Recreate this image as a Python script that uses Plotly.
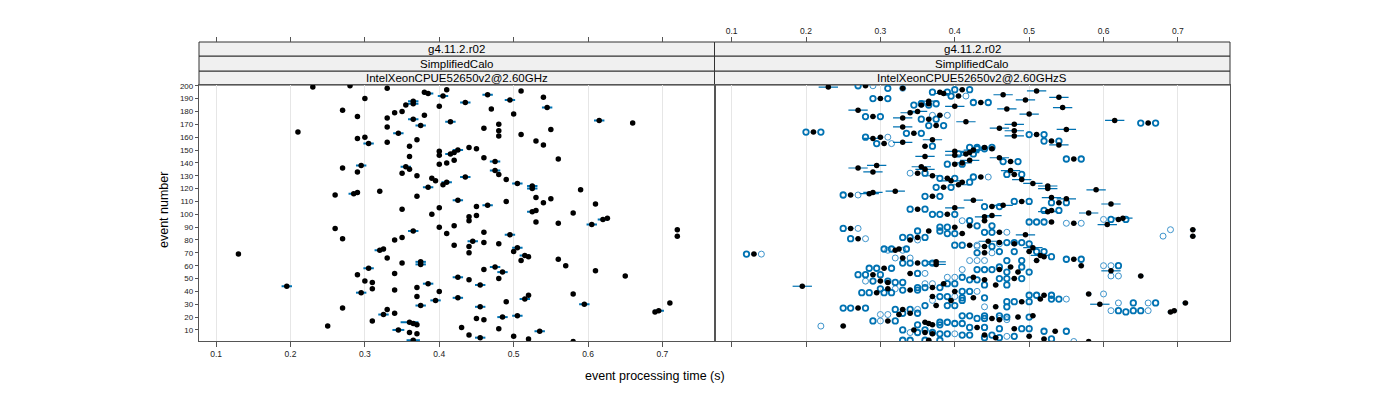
import plotly.graph_objects as go

# ---------------- data ----------------
events = list(range(1, 201))

time_s = [
    0.580, 0.365, 0.520, 0.455, 0.500, 0.440, 0.370, 0.360, 0.535, 0.345,
    0.480, 0.430, 0.250, 0.370, 0.365, 0.360, 0.310, 0.460, 0.450, 0.485,
    0.505, 0.325, 0.340, 0.690, 0.695, 0.330, 0.270, 0.455, 0.375, 0.595,
    0.710, 0.490, 0.395, 0.515, 0.425, 0.370, 0.520, 0.580, 0.295, 0.400,
    0.340, 0.310, 0.370, 0.195, 0.455, 0.385, 0.310, 0.300, 0.440, 0.480,
    0.425, 0.650, 0.290, 0.340, 0.485, 0.610, 0.460, 0.305, 0.475, 0.570,
    0.375, 0.350, 0.375, 0.510, 0.560, 0.330, 0.520, 0.515, 0.130, 0.440,
    0.500, 0.320, 0.325, 0.505, 0.440, 0.420, 0.480, 0.460, 0.445, 0.340,
    0.270, 0.350, 0.720, 0.495, 0.410, 0.460, 0.365, 0.720, 0.260, 0.400,
    0.420, 0.605, 0.560, 0.530, 0.440, 0.620, 0.626, 0.440, 0.450, 0.390,
    0.580, 0.525, 0.530, 0.350, 0.400, 0.450, 0.465, 0.610, 0.540, 0.490,
    0.425, 0.550, 0.530, 0.370, 0.260, 0.285, 0.290, 0.320, 0.590, 0.525,
    0.385, 0.525, 0.405, 0.505, 0.410, 0.395, 0.490, 0.390, 0.435, 0.370,
    0.480, 0.350, 0.290, 0.475, 0.360, 0.270, 0.355, 0.295, 0.400, 0.410,
    0.475, 0.420, 0.560, 0.460, 0.360, 0.400, 0.415, 0.420, 0.400, 0.425,
    0.450, 0.440, 0.360, 0.540, 0.305, 0.330, 0.530, 0.370, 0.290, 0.300,
    0.480, 0.510, 0.345, 0.210, 0.480, 0.550, 0.460, 0.330, 0.375, 0.480,
    0.660, 0.415, 0.615, 0.365, 0.330, 0.290, 0.380, 0.500, 0.340, 0.350,
    0.270, 0.470, 0.545, 0.400, 0.355, 0.365, 0.435, 0.365, 0.495, 0.300,
    0.540, 0.405, 0.465, 0.385, 0.380, 0.510, 0.410, 0.330, 0.230, 0.280,
]

# half-width of the error bar per event (left panel); events not listed: none
err_left = {
    2: 0.009, 4: 0.007, 9: 0.007, 10: 0.008, 16: 0.012, 20: 0.007, 21: 0.007,
    22: 0.007, 25: 0.007, 28: 0.007, 29: 0.007, 30: 0.007, 33: 0.007, 34: 0.007,
    35: 0.007, 39: 0.007, 44: 0.007, 45: 0.007, 46: 0.007, 51: 0.007, 55: 0.007,
    58: 0.007, 59: 0.007, 61: 0.007, 63: 0.007, 68: 0.007, 72: 0.007, 74: 0.007,
    79: 0.007, 84: 0.007, 87: 0.007, 92: 0.007, 96: 0.007, 102: 0.007, 107: 0.007,
    111: 0.007, 116: 0.007, 120: 0.007, 121: 0.007, 122: 0.007, 124: 0.007,
    125: 0.007, 129: 0.007, 134: 0.007, 137: 0.007, 138: 0.007, 141: 0.007,
    147: 0.007, 150: 0.007, 155: 0.007, 163: 0.007, 169: 0.007, 172: 0.007,
    173: 0.007, 174: 0.007, 183: 0.007, 186: 0.007, 187: 0.007, 188: 0.007,
    189: 0.007, 192: 0.007, 193: 0.007, 194: 0.007,
}

# right panel: longer bars on events without sample circles
err_right_long = [
    30, 44, 56, 61, 63, 68, 74, 79, 84, 92, 97, 98, 99, 101, 102, 105, 107, 108,
    111, 112, 113, 116, 117, 118, 119, 120, 122, 123, 124, 126, 127, 130, 133,
    134, 135, 136, 137, 138, 140, 142, 144, 145, 146, 148, 149, 150, 154, 156,
    158, 159, 161, 165, 166, 167, 168, 170, 172, 173, 175, 178, 179, 180, 181,
    182, 183, 184, 188, 189, 191, 193, 194, 196, 199,
]
err_right_long_value = 0.013
err_right_short_value = 0.004

# right panel: sample circles (thick, dark blue) per event
circ_thick = {
    200: [0.27], 198: [0.31], 197: [0.40, 0.42], 195: [0.37, 0.39], 192: [0.395],
    190: [0.29, 0.31], 187: [0.425, 0.445], 186: [0.355, 0.375], 185: [0.345, 0.365],
    176: [0.28, 0.30], 174: [0.355, 0.375], 171: [0.65, 0.67], 169: [0.365, 0.385],
    164: [0.20, 0.22], 163: [0.335, 0.355], 162: [0.50, 0.52], 160: [0.28],
    157: [0.52, 0.54], 155: [0.295], 153: [0.37], 152: [0.42, 0.43, 0.45],
    151: [0.43, 0.44], 147: [0.405, 0.425], 143: [0.55, 0.57], 141: [0.465, 0.485],
    139: [0.39, 0.41], 132: [0.36], 131: [0.47, 0.49], 129: [0.425], 128: [0.38, 0.40],
    125: [0.42], 121: [0.375, 0.395], 115: [0.25], 114: [0.36, 0.38], 110: [0.48, 0.50],
    109: [0.53, 0.55], 106: [0.44, 0.46], 104: [0.34, 0.36], 103: [0.52, 0.54],
    100: [0.37, 0.38, 0.40], 96: [0.61, 0.63], 95: [0.42], 94: [0.50, 0.51, 0.52],
    91: [0.43, 0.45], 90: [0.38, 0.39], 89: [0.25], 87: [0.35, 0.38], 86: [0.44, 0.45],
    85: [0.39, 0.40], 82: [0.33, 0.34, 0.36], 81: [0.26], 78: [0.47, 0.48, 0.49],
    77: [0.50], 76: [0.40, 0.41], 75: [0.45], 73: [0.305, 0.315, 0.335],
    71: [0.46, 0.48, 0.51, 0.52], 70: [0.43], 69: [0.12], 67: [0.53], 65: [0.55, 0.57],
    64: [0.47, 0.49], 62: [0.33, 0.34, 0.36, 0.37], 60: [0.62], 59: [0.46, 0.49],
    58: [0.285, 0.295, 0.315], 57: [0.43, 0.44, 0.45], 55: [0.47, 0.50], 54: [0.35],
    53: [0.27, 0.28, 0.30], 51: [0.41], 50: [0.46, 0.47, 0.49], 49: [0.42, 0.43],
    48: [0.29, 0.31], 47: [0.32, 0.33], 46: [0.39, 0.40], 45: [0.44, 0.47],
    43: [0.35, 0.36, 0.38], 42: [0.30], 41: [0.33, 0.35], 40: [0.41, 0.42],
    39: [0.275, 0.285, 0.305, 0.315], 37: [0.50, 0.51, 0.53], 36: [0.38, 0.39],
    35: [0.41, 0.44], 34: [0.53, 0.54], 33: [0.41], 32: [0.47, 0.48, 0.50],
    31: [0.64, 0.67], 29: [0.36, 0.39, 0.40], 28: [0.47], 27: [0.25, 0.26, 0.28],
    26: [0.32, 0.34], 25: [0.62, 0.64, 0.65], 24: [0.63], 23: [0.33, 0.35],
    21: [0.41, 0.42, 0.44, 0.46], 20: [0.47, 0.50], 19: [0.43, 0.44], 17: [0.29, 0.32],
    16: [0.38, 0.39], 15: [0.40, 0.41], 14: [0.35, 0.38], 12: [0.42, 0.44],
    11: [0.46, 0.49, 0.50], 10: [0.33, 0.36], 9: [0.52, 0.55], 8: [0.35, 0.37],
    7: [0.38, 0.39], 6: [0.41, 0.42, 0.45], 5: [0.48], 4: [0.44, 0.46], 3: [0.53],
    2: [0.33, 0.34, 0.36, 0.38],
}

# right panel: sample circles (thin, lighter blue) per event
circ_thin = {
    200: [0.29], 198: [0.33], 192: [0.415], 177: [0.37, 0.39], 160: [0.31],
    155: [0.315], 132: [0.34], 129: [0.445], 115: [0.27], 96: [0.60], 95: [0.41],
    93: [0.55, 0.57], 89: [0.27], 88: [0.69], 86: [0.47], 83: [0.68], 81: [0.28],
    80: [0.35], 77: [0.46], 76: [0.43], 75: [0.43], 72: [0.31, 0.33], 70: [0.45],
    69: [0.14], 66: [0.32, 0.34], 64: [0.42, 0.43, 0.44], 60: [0.60, 0.61], 57: [0.41],
    54: [0.36], 52: [0.61, 0.62], 51: [0.39, 0.40], 48: [0.28], 46: [0.36, 0.37],
    42: [0.32], 40: [0.43], 38: [0.60], 36: [0.40], 34: [0.55], 33: [0.37],
    31: [0.62, 0.66], 28: [0.44], 26: [0.35], 25: [0.61, 0.66], 22: [0.30, 0.31],
    19: [0.46], 18: [0.47], 17: [0.30], 13: [0.22], 8: [0.34], 7: [0.40], 5: [0.47],
    1: [0.56],
}

x_ticks = [0.1, 0.2, 0.3, 0.4, 0.5, 0.6, 0.7]
x_tick_text = ["0.1", "0.2", "0.3", "0.4", "0.5", "0.6", "0.7"]
y_ticks = list(range(10, 201, 10))
strip_rows = ["IntelXeonCPUE52650v2@2.60GHz", "SimplifiedCalo", "g4.11.2.r02"]
strip_rows_right = ["IntelXeonCPUE52650v2@2.60GHzS", "SimplifiedCalo", "g4.11.2.r02"]

# ---------------- build ----------------
FONT = "Liberation Sans, Arial, sans-serif"
BLUE = "#0072B2"
BLUE_LIGHT = "#3d94cc"
X_RANGE = [0.077, 0.77]
Y_RANGE = [1.4, 200.6]
PANEL_TOP = 256 / 299

# page body has an 8px margin; figure is placed at (8, 8)
OFF = 8
FIG_W, FIG_H = 1384, 384
PL, PR, PT, PB = 199 - OFF, 1230 - OFF, 42 - OFF, 341 - OFF   # plot area in figure px
PW = PR - PL
PH = PB - PT

errL = [err_left.get(e, 0.0) for e in events]
errR = [err_right_long_value if e in err_right_long else err_right_short_value for e in events]

ctx, cty = [], []
for e, xs in circ_thick.items():
    for v in xs:
        ctx.append(v)
        cty.append(e)
cnx, cny = [], []
for e, xs in circ_thin.items():
    for v in xs:
        cnx.append(v)
        cny.append(e)

fig = go.Figure()

fig.add_trace(go.Scatter(
    x=time_s, y=events, mode="markers", xaxis="x", yaxis="y",
    marker=dict(color="black", size=5.5),
    error_x=dict(type="data", array=errL, color=BLUE, thickness=2, width=0),
    showlegend=False, hoverinfo="skip"))

fig.add_trace(go.Scatter(
    x=cnx, y=cny, mode="markers", xaxis="x2", yaxis="y2",
    marker=dict(symbol="circle-open", color=BLUE_LIGHT, size=6, line=dict(width=1)),
    showlegend=False, hoverinfo="skip"))
fig.add_trace(go.Scatter(
    x=ctx, y=cty, mode="markers", xaxis="x2", yaxis="y2",
    marker=dict(symbol="circle-open", color=BLUE, size=5.5, line=dict(width=1.8)),
    showlegend=False, hoverinfo="skip"))
fig.add_trace(go.Scatter(
    x=time_s, y=events, mode="markers", xaxis="x2", yaxis="y2",
    marker=dict(color="black", size=5.5),
    error_x=dict(type="data", array=errR, color=BLUE, thickness=1.2, width=0),
    showlegend=False, hoverinfo="skip"))

# dummy traces so the top axes are drawn
fig.add_trace(go.Scatter(x=[None], y=[None], xaxis="x3", yaxis="y", showlegend=False, hoverinfo="skip"))
fig.add_trace(go.Scatter(x=[None], y=[None], xaxis="x4", yaxis="y2", showlegend=False, hoverinfo="skip"))

LINE = "#555555"
common_x = dict(range=X_RANGE, tickvals=x_ticks, ticktext=x_tick_text, ticks="outside",
                ticklen=5, tickcolor=LINE, tickfont=dict(size=8.5, color="#222", family=FONT),
                zeroline=False)

fig.update_layout(
    width=FIG_W, height=FIG_H, autosize=False,
    margin=dict(l=PL, r=FIG_W - PR, t=PT, b=FIG_H - PB, pad=0),
    paper_bgcolor="white", plot_bgcolor="white",
    font=dict(family=FONT, color="black"),
    xaxis=dict(domain=[0, 0.5], anchor="y", showline=True, linecolor=LINE, linewidth=1.3,
               mirror=True, showgrid=True, gridcolor="#e6e6e6", **common_x),
    xaxis2=dict(domain=[0.5, 1], anchor="y2", showline=True, linecolor=LINE, linewidth=1.3,
                mirror=True, showgrid=True, gridcolor="#e6e6e6", showticklabels=False, **common_x),
    xaxis3=dict(overlaying="x", anchor="free", position=1, side="top", showline=False,
                showgrid=False, showticklabels=False, **common_x),
    xaxis4=dict(overlaying="x2", anchor="free", position=1, side="top", showline=False,
                showgrid=False, showticklabels=True, **common_x),
    yaxis=dict(domain=[0, PANEL_TOP], anchor="x", range=Y_RANGE, tickvals=y_ticks,
               ticks="outside", ticklen=3, tickcolor=LINE,
               tickfont=dict(size=8, color="#222", family=FONT),
               showline=True, linecolor=LINE, linewidth=1.3, mirror=True,
               showgrid=False, zeroline=False),
    yaxis2=dict(domain=[0, PANEL_TOP], anchor="x2", range=Y_RANGE, tickvals=y_ticks,
                ticks="", showticklabels=False,
                showline=True, linecolor=LINE, linewidth=1.3, mirror=True,
                showgrid=False, zeroline=False),
)

# strips
strip_edges = [PANEL_TOP, (341 - 71) / 299, (341 - 56) / 299, 1.0]
shapes = []
annotations = []
for (x0, x1, labels) in [(0, 0.5, strip_rows), (0.5, 1, strip_rows_right)]:
    for i, lab in enumerate(labels):
        shapes.append(dict(type="rect", xref="paper", yref="paper", x0=x0, x1=x1,
                           y0=strip_edges[i], y1=strip_edges[i + 1],
                           fillcolor="#f0f0f0", line=dict(color="#333333", width=1), layer="below"))
        annotations.append(dict(xref="paper", yref="paper", x=(x0 + x1) / 2,
                                y=(strip_edges[i] + strip_edges[i + 1]) / 2,
                                text=lab, showarrow=False, xanchor="center", yanchor="middle",
                                font=dict(size=11.5, color="black", family=FONT)))

annotations.append(dict(xref="paper", yref="paper", x=(655 - 199) / PW, y=(341 - 376) / PH,
                        text="event processing time (s)", showarrow=False,
                        xanchor="center", yanchor="middle",
                        font=dict(size=12.5, color="black", family=FONT)))
annotations.append(dict(xref="paper", yref="paper", x=(164 - 199) / PW, y=(341 - 210) / PH,
                        text="event number", showarrow=False, textangle=-90,
                        xanchor="center", yanchor="middle",
                        font=dict(size=12.5, color="black", family=FONT)))

fig.update_layout(shapes=shapes, annotations=annotations)

fig.write_html("out.html")
